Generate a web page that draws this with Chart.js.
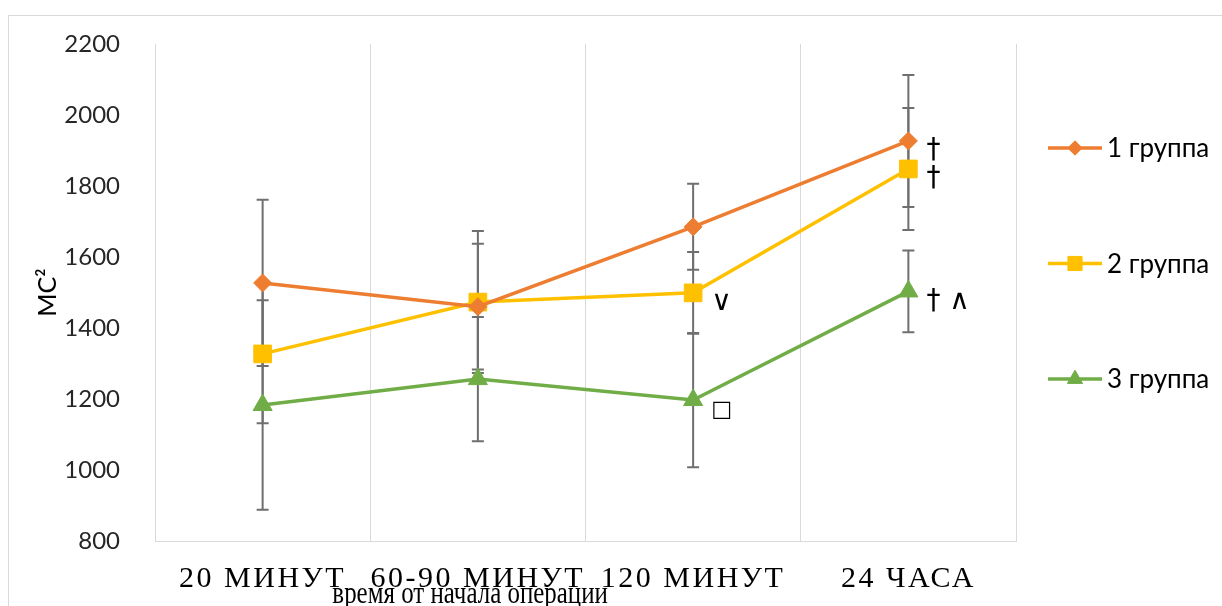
<!DOCTYPE html>
<html>
<head>
<meta charset="utf-8">
<script src="https://cdn.jsdelivr.net/npm/chart.js@4.4.1/dist/chart.umd.min.js"></script>
<style>
body{margin:0;background:#fff;overflow:hidden}
#wrap{position:relative;width:1222px;height:606px}
#frame{position:absolute;left:8px;top:15px;width:1400px;height:800px;border-left:1px solid #d9d9d9;border-top:1px solid #d9d9d9}
canvas{position:absolute;left:0;top:0}
</style>
</head>
<body>
<div id="wrap"><div id="frame"></div><canvas id="chart" width="1222" height="606"></canvas></div>
<script>
// values
const times = ['20 МИНУТ', '60-90 МИНУТ', '120 МИНУТ', '24 ЧАСА'];
const groupNames = ['1 группа', '2 группа', '3 группа'];

const group1 = [1527, 1460, 1685, 1927];
const group1Err = [234, 177, 121, 186];
const group2 = [1327, 1473, 1499, 1848];
const group2Err = [195, 200, 115, 172];
const group3 = [1183, 1256, 1197, 1503];
const group3Err = [295, 175, 189, 115];

// significance marks next to points
const group1Notes = ['', '', '', '†'];
const group2Notes = ['', '', '∨', '†'];
const group3Notes = ['', '', '□', '† ∧'];

const yTicks = [800, 1000, 1200, 1400, 1600, 1800, 2000, 2200];

const colors = ['#ED7D31', '#FFC000', '#70AD47'];
const markers = ['rectRot', 'rect', 'triangle'];
const markerSize = [9, 12.5, 11];

const errorBars = {
  id: 'errorBars',
  beforeDatasetsDraw(chart) {
    const ctx = chart.ctx, y = chart.scales.y;
    ctx.save();
    ctx.strokeStyle = '#6f6f6f';
    ctx.lineWidth = 2;
    chart.data.datasets.forEach((ds, i) => {
      chart.getDatasetMeta(i).data.forEach((pt, j) => {
        const top = y.getPixelForValue(ds.data[j] + ds.err[j]);
        const bot = y.getPixelForValue(ds.data[j] - ds.err[j]);
        ctx.beginPath();
        ctx.moveTo(pt.x, top); ctx.lineTo(pt.x, bot);
        ctx.moveTo(pt.x - 6, top); ctx.lineTo(pt.x + 6, top);
        ctx.moveTo(pt.x - 6, bot); ctx.lineTo(pt.x + 6, bot);
        ctx.stroke();
      });
    });
    ctx.restore();
  }
};

// spaced-out serif labels on the x axis
const spacedTicks = {
  id: 'spacedTicks',
  beforeDraw(chart) {
    const sc = chart.scales.x;
    if (sc._spaced) return;
    const orig = sc.drawLabels;
    sc.drawLabels = function (area) {
      const c = this.ctx;
      c.save();
      c.letterSpacing = '2.5px';
      orig.call(this, area);
      c.restore();
    };
    sc._spaced = true;
  }
};

const extras = {
  id: 'extras',
  afterDraw(chart) {
    const ctx = chart.ctx, area = chart.chartArea;
    ctx.save();
    // notes next to points
    ctx.fillStyle = '#000';
    ctx.textBaseline = 'middle';
    ctx.textAlign = 'left';
    chart.data.datasets.forEach((ds, i) => {
      chart.getDatasetMeta(i).data.forEach((pt, j) => {
        if (!ds.notes[j]) return;
        ctx.font = ds.notes[j] == '□' ? '22px "DejaVu Sans"' : '28px "DejaVu Sans"';
        ctx.fillText(ds.notes[j], pt.x + 18, pt.y + 10);
      });
    });

    // legend
    chart.data.datasets.forEach((ds, i) => {
      const ly = area.top + 104 + i * 115.5;
      const lx = area.right + 32;
      ctx.strokeStyle = ds.borderColor;
      ctx.fillStyle = ds.borderColor;
      ctx.lineWidth = 3.5;
      ctx.beginPath(); ctx.moveTo(lx, ly); ctx.lineTo(lx + 54, ly); ctx.stroke();
      ctx.lineWidth = 1;
      Chart.helpers.drawPoint(ctx, {pointStyle: ds.pointStyle, radius: ds.pointRadius * 0.8, rotation: 0, borderWidth: 1}, lx + 27, ly);
      ctx.fillStyle = '#000';
      ctx.font = '26px Lato';
      ctx.fillText(ds.label, lx + 59, ly + 1);
    });

    // y title
    ctx.save();
    ctx.translate(48, (area.top + area.bottom) / 2);
    ctx.rotate(-Math.PI / 2);
    ctx.textAlign = 'center';
    ctx.font = '25px Lato';
    ctx.fillStyle = '#000';
    ctx.fillText('МС²', 0, 0);
    ctx.restore();

    // x title, narrow serif
    ctx.save();
    ctx.translate(area.left + area.width * 0.366, chart.height - 3);
    ctx.scale(0.86, 1.08);
    ctx.textAlign = 'center';
    ctx.textBaseline = 'alphabetic';
    ctx.font = '29px "Liberation Serif"';
    ctx.fillStyle = '#000';
    ctx.fillText('время от начала операции', 0, 0);
    ctx.restore();
    ctx.restore();
  }
};

function series(label, data, err, notes, i) {
  return {
    label, data, err, notes,
    borderColor: colors[i],
    backgroundColor: colors[i],
    borderWidth: 3.5,
    pointStyle: markers[i],
    pointRadius: markerSize[i],
    pointHoverRadius: markerSize[i],
    pointBorderWidth: 1,
    tension: 0
  };
}

new Chart(document.getElementById('chart'), {
  type: 'line',
  data: {
    labels: times,
    datasets: [
      series(groupNames[0], group1, group1Err, group1Notes, 0),
      series(groupNames[1], group2, group2Err, group2Notes, 1),
      series(groupNames[2], group3, group3Err, group3Notes, 2)
    ]
  },
  options: {
    responsive: false,
    animation: false,
    layout: {padding: {top: 44, right: 206, left: 0, bottom: 0}},
    plugins: {legend: {display: false}, tooltip: {enabled: false}},
    scales: {
      x: {
        offset: true,
        grid: {offset: true, color: '#d9d9d9', drawTicks: false},
        border: {color: '#d9d9d9'},
        ticks: {color: '#000', padding: 20, font: {family: 'Liberation Serif', size: 30}, maxRotation: 0},
        afterFit: s => { s.height = 65; }
      },
      y: {
        min: yTicks[0],
        max: yTicks[yTicks.length - 1],
        afterBuildTicks: s => { s.ticks = yTicks.map(v => ({value: v})); },
        grid: {display: false},
        border: {color: '#d9d9d9'},
        ticks: {color: '#262626', padding: 27, font: {family: 'Lato', size: 24}, callback: v => String(v)},
        afterFit: s => { s.width = 155; }
      }
    }
  },
  plugins: [spacedTicks, errorBars, extras]
});
</script>
</body>
</html>
